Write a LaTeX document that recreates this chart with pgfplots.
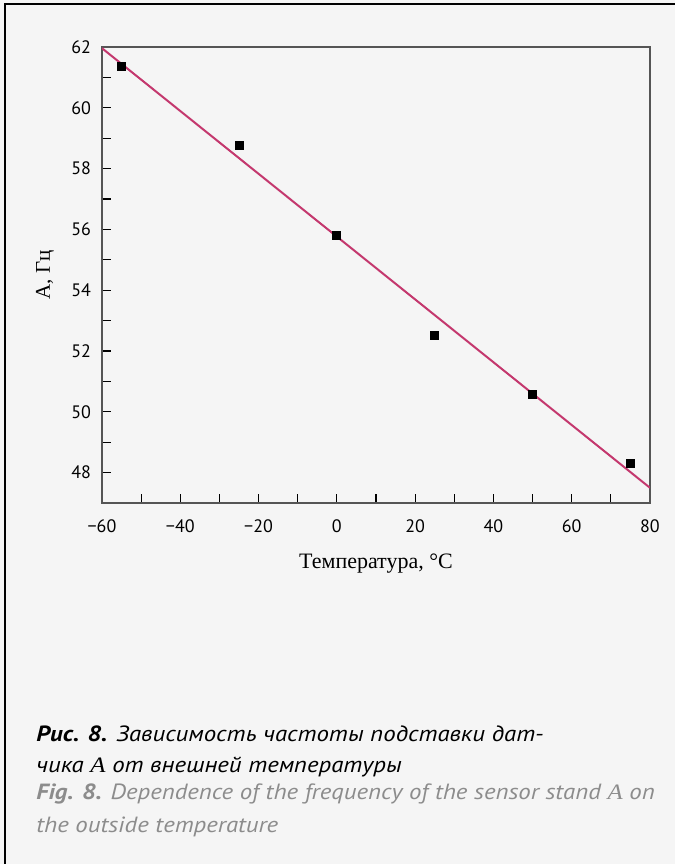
\documentclass[border=0pt]{standalone}
\usepackage{pgfplots}
\pgfplotsset{compat=1.18}
\usepackage{fontspec}
\setmainfont{PT Sans}
\newfontfamily\serif{Liberation Serif}
\definecolor{bg}{HTML}{F5F5F5}
\definecolor{fitline}{HTML}{C4386E}
\definecolor{capgray}{HTML}{8C8C8C}
\definecolor{axgray}{HTML}{555555}
\begin{document}
\begin{tikzpicture}
\useasboundingbox (0pt,0pt) rectangle (337.5pt,432pt);
\fill[bg] (0pt,0pt) rectangle (337.5pt,432pt);
\draw[line width=0.6pt] (2.5pt,0pt) -- (2.5pt,430pt) -- (337.5pt,430pt);
\begin{axis}[
  at={(51pt,180.5pt)}, anchor=south west,
  scale only axis, width=274pt, height=228pt,
  xmin=-60, xmax=80, ymin=47, ymax=62,
  xtick={-60,-40,...,80}, minor xtick={-50,-30,...,70},
  xticklabels={−60,−40,−20,0,20,40,60,80},
  ytick={48,50,...,62}, minor ytick={49,51,...,61},
  tick align=inside, tick pos=left,
  major tick length=4.5pt, minor tick length=4.5pt,
  every tick/.style={black, line width=0.6pt},
  axis line style={axgray, line width=0.8pt},
  /pgf/number format/assume math mode=true,
  tick label style={font=\fontsize{9}{10}\selectfont},
  xticklabel style={yshift=-5pt},
  yticklabel style={xshift=-2pt},
  every axis y label/.style={at={(axis description cs:-0.104,0.5)}, rotate=90, anchor=center, font=\serif\fontsize{10.5}{12}\selectfont},
  every axis x label/.style={at={(axis description cs:0.5,-0.132)}, anchor=center, font=\serif\fontsize{11}{12}\selectfont},
  xlabel={Температура, °С},
  ylabel={А, Гц},
  clip=true,
]
\addplot[fitline, line width=1pt] coordinates {(-60,61.96) (80,47.5)};
\addplot[only marks, mark=square*, mark size=2pt, mark options={fill=black, draw=black}] coordinates {
(-55,61.35) (-25,58.76) (0,55.79) (25,52.5) (50,50.56) (75,48.29)};
\end{axis}
\node[anchor=base west, inner sep=0, font=\fontsize{11}{12}\selectfont\itshape] at (18pt,61pt) {\scalebox{1.13}[1]{\textbf{Рис. 8.} Зависимость частоты подставки дат-}};
\node[anchor=base west, inner sep=0, font=\fontsize{11}{12}\selectfont\itshape] at (18pt,45.5pt) {\scalebox{1.13}[1]{чика {\serif A} от внешней температуры}};
\node[anchor=base west, inner sep=0, text=capgray, font=\fontsize{11}{12}\selectfont\itshape] at (18pt,32pt) {\scalebox{1.13}[1]{\textbf{Fig. 8.} Dependence of the frequency of the sensor stand {\serif A} on}};
\node[anchor=base west, inner sep=0, text=capgray, font=\fontsize{11}{12}\selectfont\itshape] at (18pt,16pt) {\scalebox{1.13}[1]{the outside temperature}};
\end{tikzpicture}
\end{document}
